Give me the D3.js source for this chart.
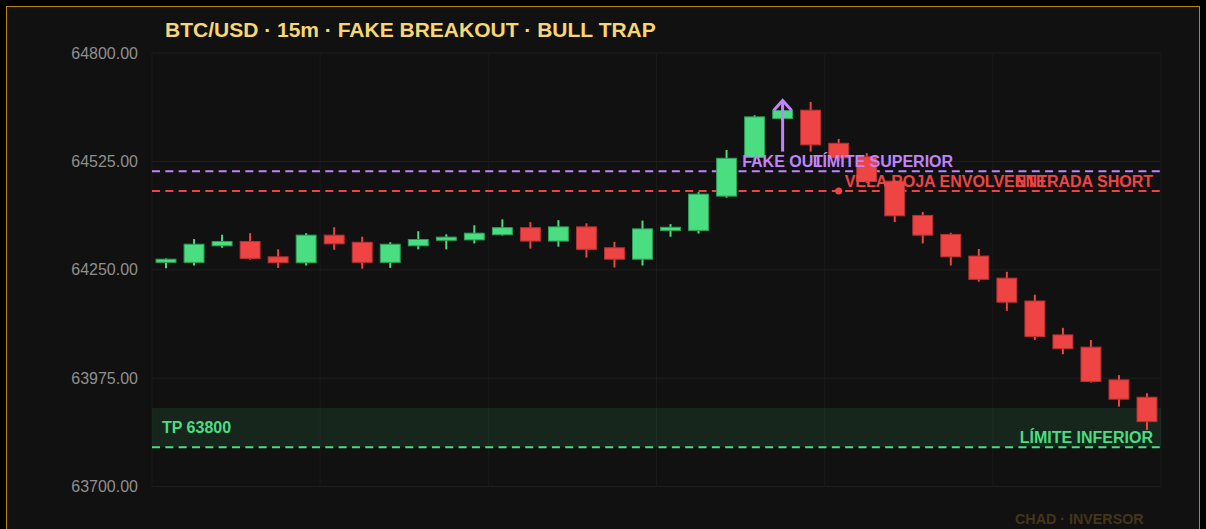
<!DOCTYPE html>
<html>
<head>
<meta charset="utf-8">
<script src="https://cdn.jsdelivr.net/npm/d3@7/dist/d3.min.js"></script>
<style>
html,body{margin:0;padding:0;background:#000;}
svg{display:block;}
text{font-family:"Liberation Sans",Arial,Helvetica,sans-serif;}
</style>
</head>
<body>
<svg id="chart" width="1206" height="529"></svg>
<script>
// ---- data ----
const titleText = "BTC/USD · 15m · FAKE BREAKOUT · BULL TRAP";
const watermark = "CHAD · INVERSOR";
const yTicks = [64800, 64525, 64250, 63975, 63700];
const opens  = [64269,64269,64311,64322,64283,64268,64338,64320,64269,64311,64325,64326,
                64339,64357,64323,64359,64306,64277,64350,64350,64437,64535,64634,64655,
                64571,64537,64475,64388,64340,64285,64229,64171,64085,64054,63971,63927];
const highs  = [64279,64328,64339,64343,64302,64343,64358,64334,64320,64348,64340,64363,
                64378,64371,64376,64368,64321,64375,64366,64447,64554,64642,64662,64676,
                64582,64546,64478,64397,64344,64303,64245,64187,64103,64072,63983,63937];
const lows   = [64254,64261,64306,64276,64255,64261,64301,64253,64255,64302,64302,64317,
                64337,64304,64309,64281,64256,64261,64334,64342,64433,64524,64628,64550,
                64526,64470,64371,64317,64261,64220,64146,64072,64036,63964,63903,63844];
const closes = [64277,64315,64322,64279,64268,64338,64316,64269,64315,64327,64333,64343,
                64357,64323,64359,64302,64277,64354,64358,64442,64533,64638,64654,64567,
                64534,64474,64387,64338,64283,64226,64168,64081,64050,63967,63922,63865];
// levels
const upperLevel = 64500, upperLabel = "LÍMITE SUPERIOR";
const entryLevel = 64450, entryLabel = "ENTRADA SHORT";
const tpLow = 63800, tpHigh = 63900, tpLabel = "TP 63800", lowerLabel = "LÍMITE INFERIOR";
// annotations
const fakeOutIndex = 22, fakeOutLabel = "FAKE OUT", fakeArrowFrom = 64550, fakeArrowTo = 64682;
const upperLabelIndex = 23;
const engulfIndex = 24, engulfLabel = "VELA ROJA ENVOLVENTE";

// ---- styles ----
const GREEN = "#4ade80", RED = "#ef4444", PURPLE = "#c084fc", GOLD = "#f7d774";
const DASH = "8,5.33";
const svg = d3.select("#chart");
const m = {left:152, right:1161, top:53, bottom:486.7};

svg.append("rect").attr("x",6.5).attr("y",6.5).attr("width",1193).attr("height",540)
  .attr("fill","#111111").attr("stroke","#b8860b").attr("stroke-width",1);

const n = opens.length;
const x = d3.scaleBand().domain(d3.range(n)).range([m.left, m.right]).paddingInner(0.29).paddingOuter(0.145);
const y = d3.scaleLinear().domain([63700, 64800]).range([m.bottom, m.top]);
const cx = i => x(i) + x.bandwidth()/2;
const edge = i => m.left + x.step()*i;

// grid
const g = svg.append("g");
g.selectAll("line.h").data(yTicks).join("line")
  .attr("x1", m.left).attr("x2", m.right)
  .attr("y1", d=>y(d)).attr("y2", d=>y(d))
  .attr("stroke","#1f1f1f").attr("stroke-width",1);
const vIdx = d3.range(0, n+1, 6);
g.selectAll("line.v").data(vIdx).join("line")
  .attr("x1", edge).attr("x2", edge)
  .attr("y1", m.top).attr("y2", m.bottom)
  .attr("stroke","#1b1b1b").attr("stroke-width",1);

// y axis labels
const yAxis = d3.axisLeft(y).tickValues(yTicks).tickFormat(d3.format(".2f")).tickSize(0).tickPadding(14);
const ya = svg.append("g").attr("transform",`translate(${m.left},0)`).call(yAxis);
ya.select(".domain").remove();
ya.selectAll("text").attr("fill","#8f8f8f").attr("font-size",16)
  .attr("font-family",'"Liberation Sans",Arial,sans-serif');

// TP band
svg.append("rect").attr("x",m.left).attr("width",m.right-m.left)
  .attr("y",y(tpHigh)).attr("height",y(tpLow)-y(tpHigh))
  .attr("fill",GREEN).attr("fill-opacity",0.1);
svg.append("line").attr("x1",m.left).attr("x2",m.right).attr("y1",y(tpLow)).attr("y2",y(tpLow))
  .attr("stroke",GREEN).attr("stroke-width",2).attr("stroke-dasharray",DASH);
svg.append("text").attr("x",m.left+10).attr("y",(y(tpLow)+y(tpHigh))/2).attr("dy","0.36em")
  .attr("fill",GREEN).attr("font-size",16).attr("font-weight","bold").text(tpLabel);
svg.append("text").attr("x",m.right-8).attr("y",y(tpLow)-4).attr("text-anchor","end")
  .attr("fill",GREEN).attr("font-size",16).attr("font-weight","bold").text(lowerLabel);

// level lines
svg.append("line").attr("x1",m.left).attr("x2",m.right).attr("y1",y(upperLevel)).attr("y2",y(upperLevel))
  .attr("stroke",PURPLE).attr("stroke-width",2).attr("stroke-dasharray",DASH);
svg.append("line").attr("x1",m.left).attr("x2",m.right).attr("y1",y(entryLevel)).attr("y2",y(entryLevel))
  .attr("stroke",RED).attr("stroke-width",2).attr("stroke-dasharray",DASH);

// candles
const data = d3.range(n).map(i => ({i, o:opens[i], h:highs[i], l:lows[i], c:closes[i]}));
const cg = svg.append("g");
const cand = cg.selectAll("g").data(data).join("g");
cand.append("line")
  .attr("x1", d=>cx(d.i)).attr("x2", d=>cx(d.i))
  .attr("y1", d=>y(d.h)).attr("y2", d=>y(d.l))
  .attr("stroke", d=> d.c>=d.o ? GREEN : RED).attr("stroke-width",2);
cand.append("rect")
  .attr("x", d=>x(d.i)).attr("width", x.bandwidth())
  .attr("y", d=>y(Math.max(d.o,d.c)))
  .attr("height", d=>Math.max(1, Math.abs(y(d.o)-y(d.c))))
  .attr("fill", d=> d.c>=d.o ? GREEN : RED)
  .attr("stroke", d=> d.c>=d.o ? "#2f9e5c" : "#b83232").attr("stroke-width",1);

// fake out arrow
const ax = cx(fakeOutIndex), ay1 = y(fakeArrowFrom), ay2 = y(fakeArrowTo);
svg.append("line").attr("x1",ax).attr("x2",ax).attr("y1",ay1).attr("y2",ay2+1)
  .attr("stroke",PURPLE).attr("stroke-width",3);
svg.append("path").attr("d",`M${ax-9},${ay2+11} L${ax},${ay2+1} L${ax+9},${ay2+11}`)
  .attr("fill","none").attr("stroke",PURPLE).attr("stroke-width",3);

// labels
svg.append("text").attr("x",ax).attr("y",y(upperLevel)-4).attr("text-anchor","middle")
  .attr("fill",PURPLE).attr("font-size",16).attr("font-weight","bold").text(fakeOutLabel);
svg.append("text").attr("x",x(upperLabelIndex)+x.bandwidth()/2+2).attr("y",y(upperLevel)-4)
  .attr("fill",PURPLE).attr("font-size",16).attr("font-weight","bold").text(upperLabel);
svg.append("circle").attr("cx",cx(engulfIndex)).attr("cy",y(entryLevel)).attr("r",3.5).attr("fill",RED);
svg.append("text").attr("x",cx(engulfIndex)+6).attr("y",y(entryLevel)-4)
  .attr("fill",RED).attr("font-size",16).attr("font-weight","bold").text(engulfLabel);
svg.append("text").attr("x",m.right-8).attr("y",y(entryLevel)-4).attr("text-anchor","end")
  .attr("fill",RED).attr("font-size",16).attr("font-weight","bold").text(entryLabel);

// title
svg.append("text").attr("x",165).attr("y",37).attr("fill",GOLD)
  .attr("font-size",21).attr("font-weight","bold").text(titleText);
// watermark
svg.append("text").attr("x",1015).attr("y",524).attr("fill","#433619")
  .attr("font-size",14.3).attr("font-weight","bold").text(watermark);
</script>
</body>
</html>
